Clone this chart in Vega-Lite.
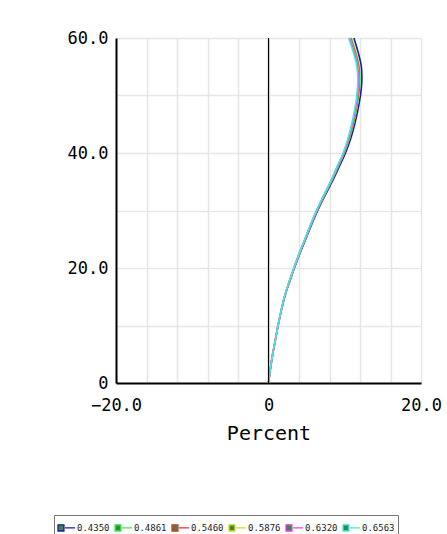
{
  "$schema": "https://vega.github.io/schema/vega-lite/v6.json",
  "width": 305,
  "height": 345,
  "autosize": "none",
  "padding": {"left": 116, "top": 38, "right": 26, "bottom": 151},
  "background": "white",
  "config": {
    "view": {"stroke": null},
    "font": "DejaVu Sans Mono"
  },
  "datasets": {
    "curves": [
      {"w":"0.4350","f":0,"d":0},{"w":"0.4350","f":2.5,"d":0.25},{"w":"0.4350","f":5,"d":0.55},{"w":"0.4350","f":7.5,"d":0.91},{"w":"0.4350","f":10,"d":1.26},{"w":"0.4350","f":12.5,"d":1.67},{"w":"0.4350","f":15,"d":2.13},{"w":"0.4350","f":17.5,"d":2.74},{"w":"0.4350","f":20,"d":3.4},{"w":"0.4350","f":22.5,"d":4.11},{"w":"0.4350","f":25,"d":4.88},{"w":"0.4350","f":27.5,"d":5.64},{"w":"0.4350","f":30,"d":6.46},{"w":"0.4350","f":32.5,"d":7.38},{"w":"0.4350","f":35,"d":8.35},{"w":"0.4350","f":37.5,"d":9.23},{"w":"0.4350","f":40,"d":10.1},{"w":"0.4350","f":42.5,"d":10.78},{"w":"0.4350","f":45,"d":11.3},{"w":"0.4350","f":47.5,"d":11.73},{"w":"0.4350","f":50,"d":12.06},{"w":"0.4350","f":52.5,"d":12.24},{"w":"0.4350","f":55,"d":12.18},{"w":"0.4350","f":57.5,"d":11.76},{"w":"0.4350","f":60,"d":11.2},
      {"w":"0.4861","f":0,"d":0},{"w":"0.4861","f":2.5,"d":0.25},{"w":"0.4861","f":5,"d":0.55},{"w":"0.4861","f":7.5,"d":0.9},{"w":"0.4861","f":10,"d":1.25},{"w":"0.4861","f":12.5,"d":1.66},{"w":"0.4861","f":15,"d":2.11},{"w":"0.4861","f":17.5,"d":2.71},{"w":"0.4861","f":20,"d":3.36},{"w":"0.4861","f":22.5,"d":4.07},{"w":"0.4861","f":25,"d":4.82},{"w":"0.4861","f":27.5,"d":5.58},{"w":"0.4861","f":30,"d":6.38},{"w":"0.4861","f":32.5,"d":7.29},{"w":"0.4861","f":35,"d":8.24},{"w":"0.4861","f":37.5,"d":9.1},{"w":"0.4861","f":40,"d":9.95},{"w":"0.4861","f":42.5,"d":10.61},{"w":"0.4861","f":45,"d":11.12},{"w":"0.4861","f":47.5,"d":11.53},{"w":"0.4861","f":50,"d":11.83},{"w":"0.4861","f":52.5,"d":11.99},{"w":"0.4861","f":55,"d":11.9},{"w":"0.4861","f":57.5,"d":11.46},{"w":"0.4861","f":60,"d":10.87},
      {"w":"0.5460","f":0,"d":0},{"w":"0.5460","f":2.5,"d":0.25},{"w":"0.5460","f":5,"d":0.55},{"w":"0.5460","f":7.5,"d":0.9},{"w":"0.5460","f":10,"d":1.25},{"w":"0.5460","f":12.5,"d":1.65},{"w":"0.5460","f":15,"d":2.1},{"w":"0.5460","f":17.5,"d":2.7},{"w":"0.5460","f":20,"d":3.35},{"w":"0.5460","f":22.5,"d":4.05},{"w":"0.5460","f":25,"d":4.8},{"w":"0.5460","f":27.5,"d":5.55},{"w":"0.5460","f":30,"d":6.35},{"w":"0.5460","f":32.5,"d":7.25},{"w":"0.5460","f":35,"d":8.2},{"w":"0.5460","f":37.5,"d":9.05},{"w":"0.5460","f":40,"d":9.9},{"w":"0.5460","f":42.5,"d":10.55},{"w":"0.5460","f":45,"d":11.05},{"w":"0.5460","f":47.5,"d":11.45},{"w":"0.5460","f":50,"d":11.75},{"w":"0.5460","f":52.5,"d":11.9},{"w":"0.5460","f":55,"d":11.8},{"w":"0.5460","f":57.5,"d":11.35},{"w":"0.5460","f":60,"d":10.75},
      {"w":"0.5876","f":0,"d":0},{"w":"0.5876","f":2.5,"d":0.25},{"w":"0.5876","f":5,"d":0.55},{"w":"0.5876","f":7.5,"d":0.9},{"w":"0.5876","f":10,"d":1.25},{"w":"0.5876","f":12.5,"d":1.65},{"w":"0.5876","f":15,"d":2.1},{"w":"0.5876","f":17.5,"d":2.69},{"w":"0.5876","f":20,"d":3.34},{"w":"0.5876","f":22.5,"d":4.04},{"w":"0.5876","f":25,"d":4.79},{"w":"0.5876","f":27.5,"d":5.53},{"w":"0.5876","f":30,"d":6.33},{"w":"0.5876","f":32.5,"d":7.23},{"w":"0.5876","f":35,"d":8.17},{"w":"0.5876","f":37.5,"d":9.02},{"w":"0.5876","f":40,"d":9.86},{"w":"0.5876","f":42.5,"d":10.51},{"w":"0.5876","f":45,"d":11.0},{"w":"0.5876","f":47.5,"d":11.4},{"w":"0.5876","f":50,"d":11.69},{"w":"0.5876","f":52.5,"d":11.84},{"w":"0.5876","f":55,"d":11.73},{"w":"0.5876","f":57.5,"d":11.28},{"w":"0.5876","f":60,"d":10.67},
      {"w":"0.6320","f":0,"d":0},{"w":"0.6320","f":2.5,"d":0.25},{"w":"0.6320","f":5,"d":0.55},{"w":"0.6320","f":7.5,"d":0.9},{"w":"0.6320","f":10,"d":1.25},{"w":"0.6320","f":12.5,"d":1.64},{"w":"0.6320","f":15,"d":2.09},{"w":"0.6320","f":17.5,"d":2.69},{"w":"0.6320","f":20,"d":3.33},{"w":"0.6320","f":22.5,"d":4.03},{"w":"0.6320","f":25,"d":4.77},{"w":"0.6320","f":27.5,"d":5.52},{"w":"0.6320","f":30,"d":6.31},{"w":"0.6320","f":32.5,"d":7.21},{"w":"0.6320","f":35,"d":8.15},{"w":"0.6320","f":37.5,"d":8.99},{"w":"0.6320","f":40,"d":9.83},{"w":"0.6320","f":42.5,"d":10.47},{"w":"0.6320","f":45,"d":10.97},{"w":"0.6320","f":47.5,"d":11.36},{"w":"0.6320","f":50,"d":11.65},{"w":"0.6320","f":52.5,"d":11.79},{"w":"0.6320","f":55,"d":11.67},{"w":"0.6320","f":57.5,"d":11.21},{"w":"0.6320","f":60,"d":10.6},
      {"w":"0.6563","f":0,"d":0},{"w":"0.6563","f":2.5,"d":0.25},{"w":"0.6563","f":5,"d":0.55},{"w":"0.6563","f":7.5,"d":0.9},{"w":"0.6563","f":10,"d":1.24},{"w":"0.6563","f":12.5,"d":1.64},{"w":"0.6563","f":15,"d":2.08},{"w":"0.6563","f":17.5,"d":2.68},{"w":"0.6563","f":20,"d":3.32},{"w":"0.6563","f":22.5,"d":4.01},{"w":"0.6563","f":25,"d":4.76},{"w":"0.6563","f":27.5,"d":5.5},{"w":"0.6563","f":30,"d":6.29},{"w":"0.6563","f":32.5,"d":7.18},{"w":"0.6563","f":35,"d":8.12},{"w":"0.6563","f":37.5,"d":8.95},{"w":"0.6563","f":40,"d":9.79},{"w":"0.6563","f":42.5,"d":10.42},{"w":"0.6563","f":45,"d":10.91},{"w":"0.6563","f":47.5,"d":11.29},{"w":"0.6563","f":50,"d":11.58},{"w":"0.6563","f":52.5,"d":11.71},{"w":"0.6563","f":55,"d":11.59},{"w":"0.6563","f":57.5,"d":11.12},{"w":"0.6563","f":60,"d":10.5}
    ],
    "zero": [{"d": 0}]
  },
  "encoding": {
    "x": {
      "field": "d", "type": "quantitative",
      "scale": {"domain": [-20, 20], "nice": false, "zero": false},
      "axis": {
        "title": "Percent",
        "titleFont": "DejaVu Sans Mono", "titleFontSize": 20, "titleFontWeight": "normal", "titleColor": "black", "titlePadding": 10,
        "values": [-20, -16, -12, -8, -4, 0, 4, 8, 12, 16, 20],
        "labelExpr": "datum.value == 0 ? '0' : (datum.value % 20 == 0 ? format(datum.value, '.1f') : '')",
        "labelFont": "DejaVu Sans Mono", "labelFontSize": 17, "labelColor": "black", "labelPadding": 14,
        "labelOverlap": false, "labelFlush": false,
        "ticks": false, "domainColor": "black", "domainWidth": 2,
        "grid": true, "gridColor": "#e6e6e6", "gridWidth": 1.5
      }
    }
  },
  "layer": [
    {
      "data": {"name": "curves"},
      "mark": {"type": "line", "strokeWidth": 1.6, "interpolate": "catmull-rom"},
      "encoding": {
        "y": {
          "field": "f", "type": "quantitative",
          "scale": {"domain": [0, 60], "nice": false},
          "axis": {
            "title": null,
            "values": [0, 10, 20, 30, 40, 50, 60],
            "labelExpr": "datum.value == 0 ? '0' : (datum.value % 20 == 0 ? format(datum.value, '.1f') : '')",
            "labelFont": "DejaVu Sans Mono", "labelFontSize": 17, "labelColor": "black", "labelPadding": 8,
            "labelOverlap": false, "labelFlush": false,
            "ticks": false, "domainColor": "black", "domainWidth": 2,
            "grid": true, "gridColor": "#e6e6e6", "gridWidth": 1.5
          }
        },
        "order": {"field": "f", "type": "quantitative"},
        "color": {
          "field": "w", "type": "nominal",
          "scale": {
            "domain": ["0.4350", "0.4861", "0.5460", "0.5876", "0.6320", "0.6563"],
            "range": ["#1a1aa8", "#3ee85a", "#e83030", "#d8d830", "#e83ee8", "#40e8e8"]
          },
          "legend": {
            "title": null,
            "orient": "none",
            "legendX": -62,
            "legendY": 477,
            "direction": "horizontal",
            "columns": 6,
            "symbolType": "M -1 -0.36 H -0.3 V 0.36 H -1 Z M -0.18 0 H 1",
            "symbolSize": 289,
            "symbolStrokeWidth": 1.3,
            "labelFont": "DejaVu Sans Mono",
            "labelFontSize": 9,
            "labelColor": "#222",
            "labelOffset": 1,
            "columnPadding": 2,
            "padding": 3,
            "strokeColor": "#777",
            "fillColor": "white",
            "encode": {"symbols": {"update": {"fill": {"value": "#3a8a3a"}}}}
          }
        }
      }
    },
    {
      "data": {"name": "zero"},
      "mark": {"type": "rule", "color": "black", "strokeWidth": 1.2},
      "encoding": {}
    }
  ]
}
